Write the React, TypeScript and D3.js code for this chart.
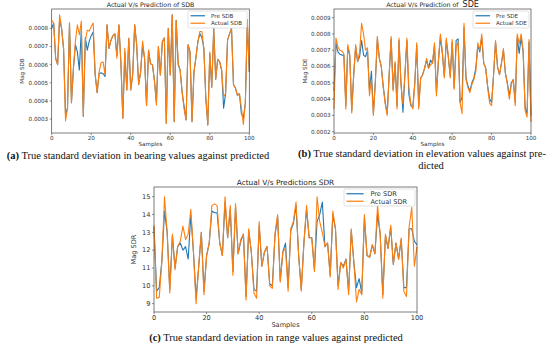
import React from 'react';
import * as d3 from 'd3';

// ---- data ----
const samples = d3.range(0, 101);
const xTicks = [0, 20, 40, 60, 80, 100];

const sdbActual = [
  0.000845, 0.00083, 0.000635, 0.0006, 0.000875, 0.0008, 0.00069, 0.00029, 0.00036, 0.00083,
  0.00039, 0.00058, 0.00073, 0.00082, 0.000765, 0.00084, 0.000315, 0.00073, 0.00079, 0.000785,
  0.00081, 0.00083, 0.000545, 0.000445, 0.00056, 0.00061, 0.000615, 0.000545, 0.00082, 0.00069,
  0.000735, 0.00076, 0.00077, 0.000635, 0.00082, 0.000615, 0.000305, 0.00069, 0.00046, 0.000745,
  0.00046, 0.000545, 0.00082, 0.00071, 0.00049, 0.00056, 0.00073, 0.000635, 0.000375, 0.00068,
  0.000605, 0.0006, 0.00051, 0.000378, 0.0007, 0.000543, 0.000728, 0.000747, 0.000277, 0.0008,
  0.000543, 0.000875, 0.000286, 0.000845, 0.00061, 0.00057, 0.00045, 0.000355, 0.000295, 0.00071,
  0.00067, 0.000286, 0.00056, 0.00064, 0.000728, 0.000783, 0.000783, 0.00069, 0.000415, 0.000268,
  0.00067, 0.000476, 0.0008, 0.00052, 0.00063, 0.000615, 0.00057, 0.000424, 0.00044, 0.000737,
  0.00077, 0.0008, 0.00049, 0.00047, 0.00043, 0.00044, 0.00036, 0.00027, 0.00039, 0.00085,
  0.00056,
];
const sdbPred = [
  0.0008, 0.00083, 0.000635, 0.0006, 0.00085, 0.0008, 0.00069, 0.000325, 0.00036, 0.00083,
  0.00039, 0.00058, 0.00071, 0.00067, 0.00057, 0.0008, 0.000315, 0.00075, 0.00068, 0.00073,
  0.00076, 0.00078, 0.000545, 0.000445, 0.00055, 0.000555, 0.00055, 0.000535, 0.00082, 0.00069,
  0.000735, 0.00076, 0.00077, 0.00065, 0.00082, 0.000615, 0.000305, 0.00067, 0.00046, 0.000745,
  0.00046, 0.000545, 0.00082, 0.00071, 0.00049, 0.00056, 0.00071, 0.000635, 0.000375, 0.00068,
  0.000605, 0.0006, 0.00051, 0.00039, 0.0007, 0.000543, 0.000728, 0.000747, 0.000277, 0.0008,
  0.000543, 0.000875, 0.000286, 0.000845, 0.0006, 0.00057, 0.00045, 0.00037, 0.000295, 0.00071,
  0.00067, 0.000286, 0.00056, 0.00064, 0.000728, 0.00077, 0.00075, 0.00069, 0.000415, 0.000268,
  0.00066, 0.000476, 0.0008, 0.00052, 0.00063, 0.000615, 0.00057, 0.00036, 0.00044, 0.000737,
  0.00077, 0.0008, 0.00049, 0.00047, 0.00043, 0.00044, 0.00033, 0.000305, 0.00039, 0.00083,
  0.00056,
];

const sdeActual = [
  0.00034, 0.000775, 0.00072, 0.0007, 0.000695, 0.00068, 0.00034, 0.000735, 0.000675, 0.000315,
  0.00055, 0.000735, 0.00063, 0.00069, 0.000865, 0.0008, 0.0007, 0.000715, 0.00042, 0.00052,
  0.0003, 0.00051, 0.000785, 0.00065, 0.0006, 0.00047, 0.00037, 0.0003, 0.00055, 0.000785,
  0.00045, 0.00063, 0.00034, 0.000775, 0.00049, 0.00037, 0.00055, 0.000775, 0.00047, 0.00037,
  0.00034, 0.00049, 0.000745, 0.00034, 0.00053, 0.00055, 0.00059, 0.00065, 0.00059, 0.00061,
  0.00062, 0.000745, 0.00042, 0.00064, 0.0008, 0.00069, 0.00053, 0.000775, 0.00067, 0.00053,
  0.000765, 0.00046, 0.00072, 0.00075, 0.00038, 0.00031, 0.000865, 0.00052, 0.00047, 0.00044,
  0.00049, 0.00052, 0.00057, 0.000745, 0.0007, 0.0008, 0.00062, 0.00059, 0.00047, 0.000375,
  0.00036, 0.00055, 0.00076, 0.0006, 0.00055, 0.00062, 0.00071, 0.00056, 0.00049, 0.0004,
  0.00049, 0.00052, 0.00036, 0.0008, 0.00074, 0.0008, 0.0007, 0.00033, 0.00029, 0.000765,
  0.00026,
];
const sdePred = [
  0.00045, 0.00074, 0.00069, 0.000675, 0.00067, 0.00067, 0.00036, 0.00072, 0.000665, 0.00033,
  0.00055, 0.00072, 0.00063, 0.00066, 0.00076, 0.00067, 0.00066, 0.0007, 0.00045, 0.00057,
  0.00031, 0.00051, 0.00077, 0.00065, 0.0006, 0.00048, 0.00038, 0.00031, 0.00055, 0.00077,
  0.00046, 0.00062, 0.00036, 0.00076, 0.0005, 0.00032, 0.00055, 0.00076, 0.00043, 0.00036,
  0.00035, 0.0005, 0.00073, 0.00036, 0.00053, 0.00055, 0.00059, 0.00064, 0.00059, 0.00064,
  0.00062, 0.00073, 0.00044, 0.00063, 0.00078, 0.00068, 0.00054, 0.00076, 0.00066, 0.00054,
  0.00075, 0.00047, 0.00076, 0.00077, 0.00038, 0.00041, 0.00084, 0.00053, 0.00048, 0.00045,
  0.0005, 0.00053, 0.00059, 0.00073, 0.00069, 0.00078, 0.00062, 0.00059, 0.00048, 0.0004,
  0.00038, 0.00055, 0.00075, 0.0006, 0.00055, 0.00062, 0.0007, 0.00056, 0.0005, 0.00042,
  0.0005, 0.00052, 0.00038, 0.00078, 0.00068, 0.00078, 0.00069, 0.00035, 0.00031, 0.00075,
  0.0003,
];

const sdrActual = [
  13.4, 9.3, 9.35, 11.4, 15.0, 13.0, 9.6, 12.9, 10.9, 12.2,
  12.5, 13.35, 12.6, 12.9, 14.3, 11.9, 9.0, 11.1, 13.0, 9.5,
  11.7, 12.4, 14.5, 14.6, 14.5, 12.4, 11.7, 15.0, 12.7, 14.5,
  10.6, 14.6, 11.8, 12.6, 12.9, 9.2, 13.2, 11.9, 9.6, 9.3,
  13.6, 11.1, 11.9, 12.2, 10.0, 9.85, 12.9, 14.0, 10.2, 11.9,
  12.1, 9.7, 13.2, 13.6, 14.7, 11.7, 9.7, 12.4, 14.5, 12.7,
  12.7, 10.8, 15.0, 13.6, 13.0, 12.2, 12.4, 10.5, 14.2, 13.2,
  9.8, 11.3, 11.0, 11.5, 9.5, 13.2, 11.3, 9.1, 9.8, 9.5,
  14.0, 11.7, 11.6, 12.3, 11.8, 14.5, 12.9, 9.3, 12.9, 12.1,
  13.4, 11.2, 12.4, 11.5, 12.7, 9.7, 9.4, 13.3, 14.4, 11.1,
  12.2,
];
const sdrPred = [
  13.3, 9.7, 9.9, 11.4, 14.2, 13.0, 9.8, 12.8, 11.0, 12.2,
  12.4, 12.0, 12.2, 11.5, 14.0, 11.9, 9.3, 11.1, 13.0, 9.7,
  11.7, 12.4, 14.2, 14.1, 14.1, 12.4, 11.7, 14.7, 12.7, 14.3,
  10.8, 14.4, 11.8, 12.5, 12.9, 9.4, 13.1, 11.9, 9.8, 9.7,
  13.4, 11.1, 11.9, 12.2, 10.1, 10.0, 12.8, 13.9, 10.3, 11.9,
  12.4, 9.9, 13.1, 13.5, 14.5, 11.7, 9.8, 12.4, 14.3, 12.7,
  12.7, 10.9, 13.6, 14.0, 14.7, 12.2, 12.4, 10.6, 14.0, 13.2,
  10.0, 11.3, 11.1, 11.5, 9.7, 13.1, 11.3, 9.9, 10.4, 9.6,
  13.8, 11.7, 11.6, 12.3, 11.8, 14.0, 12.9, 9.5, 12.8, 12.1,
  13.3, 11.2, 12.4, 11.5, 12.6, 9.9, 9.9, 13.2, 13.2, 12.5,
  12.3,
];

const sdbTicks = [0.0003, 0.0004, 0.0005, 0.0006, 0.0007, 0.0008];
const sdeTicks = [0.0002, 0.0003, 0.0004, 0.0005, 0.0006, 0.0007, 0.0008, 0.0009];
const sdrTicks = [9, 10, 11, 12, 13, 14, 15];

const BLUE = '#1f77b4';
const ORANGE = '#ff7f0e';
const FONT = 'DejaVu Sans, sans-serif';
const SERIF = 'Liberation Serif, DejaVu Serif, serif';

interface PanelProps {
  left: number; right: number; top: number; bottom: number;
  ylim: [number, number];
  yTicks: number[];
  tickFmt: (v: number) => string;
  actual: number[];
  pred: number[];
  title: React.ReactNode;
  titleY: number;
  ylabel: string;
  ylabelX: number;
  legend: [string, string];
  legendBox: { x: number; y: number; w: number; h: number };
  fs: number;
}

const Panel: React.FC<PanelProps> = (p) => {
  const x = d3.scaleLinear().domain([0, 100]).range([p.left, p.right]);
  const y = d3.scaleLinear().domain(p.ylim).range([p.bottom, p.top]);
  const line = d3.line<number>().x((_, i) => x(samples[i])).y(d => y(d));
  const fs = p.fs;
  const lb = p.legendBox;
  return (
    <g>
      <defs>
        <clipPath id={`clip-${p.ylabel}`}>
          <rect x={p.left} y={p.top} width={p.right - p.left} height={p.bottom - p.top} />
        </clipPath>
      </defs>
      <g clipPath={`url(#clip-${p.ylabel})`}>
        <path d={line(p.pred) || ''} fill="none" stroke={BLUE} strokeWidth={1.1} strokeLinejoin="round" />
        <path d={line(p.actual) || ''} fill="none" stroke={ORANGE} strokeWidth={1.1} strokeLinejoin="round" />
      </g>
      <rect x={p.left} y={p.top} width={p.right - p.left} height={p.bottom - p.top}
        fill="none" stroke="#444" strokeWidth={0.7} />
      {p.yTicks.map(t => (
        <g key={t}>
          <line x1={p.left - 2} x2={p.left} y1={y(t)} y2={y(t)} stroke="#444" strokeWidth={0.6} />
          <text x={p.left - 3.5} y={y(t)} dy="0.35em" textAnchor="end" fontSize={fs} fill="#333">{p.tickFmt(t)}</text>
        </g>
      ))}
      {xTicks.map(t => (
        <g key={t}>
          <line x1={x(t)} x2={x(t)} y1={p.bottom} y2={p.bottom + 2} stroke="#444" strokeWidth={0.6} />
          <text x={x(t)} y={p.bottom + 3} dy="0.75em" textAnchor="middle" fontSize={fs} fill="#333">{t}</text>
        </g>
      ))}
      <text x={(p.left + p.right) / 2} y={p.bottom + 3 + fs * 1.75} textAnchor="middle" fontSize={fs} fill="#333">Samples</text>
      <text transform={`translate(${p.ylabelX},${(p.top + p.bottom) / 2}) rotate(-90)`} dy="0.35em"
        textAnchor="middle" fontSize={fs} fill="#333">{p.ylabel}</text>
      <text x={(p.left + p.right) / 2} y={p.titleY} textAnchor="middle" fontSize={fs * 1.12} fill="#222">{p.title}</text>
      <rect x={lb.x} y={lb.y} width={lb.w} height={lb.h} rx={1.5} fill="white" fillOpacity={0.85} stroke="#ccc" strokeWidth={0.6} />
      {[BLUE, ORANGE].map((c, i) => {
        const ly = lb.y + lb.h * (i === 0 ? 0.28 : 0.72);
        return (
          <g key={c}>
            <line x1={lb.x + 2.5} x2={lb.x + 2.5 + fs * 2.6} y1={ly} y2={ly} stroke={c} strokeWidth={1.2} />
            <text x={lb.x + 4 + fs * 3.4} y={ly} dy="0.35em" fontSize={fs} fill="#333">{p.legend[i]}</text>
          </g>
        );
      })}
    </g>
  );
};

const fmt4 = d3.format('.4f');
const fmt0 = d3.format('d');

export default function App() {
  return (
    <svg width={550} height={345} style={{ position: 'absolute', left: 0, top: 0, background: '#fff' }}
      fontFamily={FONT}>
      <Panel left={51.7} right={249.3} top={9} bottom={133} ylim={[0.000223, 0.000907]}
        yTicks={sdbTicks} tickFmt={fmt4} actual={sdbActual} pred={sdbPred}
        title="Actual V/s Prediction of SDB" titleY={7} ylabel="Mag SDB" ylabelX={22}
        legend={['Pre SDB', 'Actual SDB']} legendBox={{ x: 188, y: 11, w: 59, h: 17 }} fs={5.6} />
      <Panel left={334} right={531} top={9} bottom={133} ylim={[0.000192, 0.000953]}
        yTicks={sdeTicks} tickFmt={fmt4} actual={sdeActual} pred={sdePred}
        title={<>Actual V/s Prediction of <tspan fontSize={8} dx={2}>SDE</tspan></>} titleY={7}
        ylabel="Mag SDE" ylabelX={305}
        legend={['Pre SDE', 'Actual SDE']} legendBox={{ x: 473, y: 11, w: 56, h: 17 }} fs={5.6} />
      <Panel left={154} right={417} top={187} bottom={312} ylim={[8.53, 15.545]}
        yTicks={sdrTicks} tickFmt={fmt0} actual={sdrActual} pred={sdrPred}
        title="Actual V/s Predictions SDR" titleY={185} ylabel="Mag SDR" ylabelX={134}
        legend={['Pre SDR', 'Actual SDR']} legendBox={{ x: 344, y: 189, w: 71, h: 17 }} fs={6.6} />

      <g fontFamily={SERIF} fontSize={10.5} fill="#111">
        <text x={138} y={159} textAnchor="middle"><tspan fontWeight="bold">(a)</tspan> True standard deviation in bearing values against predicted</text>
        <text x={422} y={156.5} textAnchor="middle"><tspan fontWeight="bold">(b)</tspan> True standard deviation in elevation values against pre-</text>
        <text x={431} y={169} textAnchor="middle">dicted</text>
        <text x={276} y={340.5} textAnchor="middle"><tspan fontWeight="bold">(c)</tspan> True standard deviation in range values against predicted</text>
      </g>
    </svg>
  );
}
